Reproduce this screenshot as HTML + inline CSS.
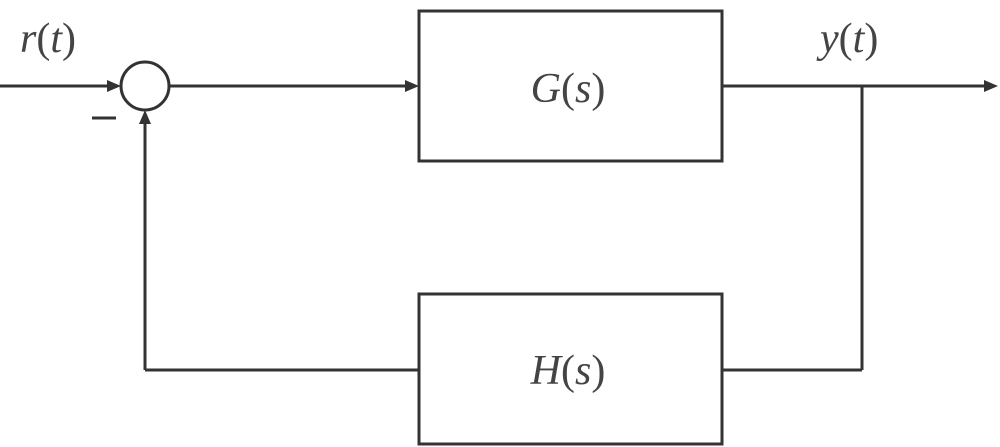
<!DOCTYPE html>
<html><head><style>body{margin:0;background:#fff}svg{display:block}</style></head><body>
<svg width="1000" height="447" viewBox="0 0 1000 447" xmlns="http://www.w3.org/2000/svg">
<g stroke="#333" stroke-width="3" fill="none">
<line x1="0" y1="86" x2="112" y2="86"/>
<circle cx="145" cy="86" r="24"/>
<line x1="169" y1="86" x2="408" y2="86"/>
<rect x="419" y="11" width="303" height="150"/>
<line x1="722" y1="86" x2="985" y2="86"/>
<line x1="862" y1="86" x2="862" y2="370"/>
<line x1="862" y1="370" x2="722" y2="370"/>
<rect x="419" y="294" width="303" height="150"/>
<line x1="419" y1="370" x2="145" y2="370"/>
<line x1="145" y1="370" x2="145" y2="120"/>
<line x1="92" y1="118" x2="116" y2="118"/>
</g>
<g fill="#333">
<polygon points="121,86 107,80 107,92"/>
<polygon points="419,86 405,80 405,92"/>
<polygon points="998,86 984,80 984,92"/>
<polygon points="145,110 139,124 151,124"/>
</g>
<g font-family="Liberation Serif, serif" font-size="42" fill="#444">
<text x="20" y="52"><tspan font-style="italic">r</tspan>(<tspan font-style="italic">t</tspan>)</text>
<text x="820" y="52"><tspan font-style="italic">y</tspan>(<tspan font-style="italic">t</tspan>)</text>
<text x="568" y="102" text-anchor="middle"><tspan font-style="italic">G</tspan>(<tspan font-style="italic">s</tspan>)</text>
<text x="568" y="384" text-anchor="middle"><tspan font-style="italic">H</tspan>(<tspan font-style="italic">s</tspan>)</text>
</g>
</svg>
</body></html>
